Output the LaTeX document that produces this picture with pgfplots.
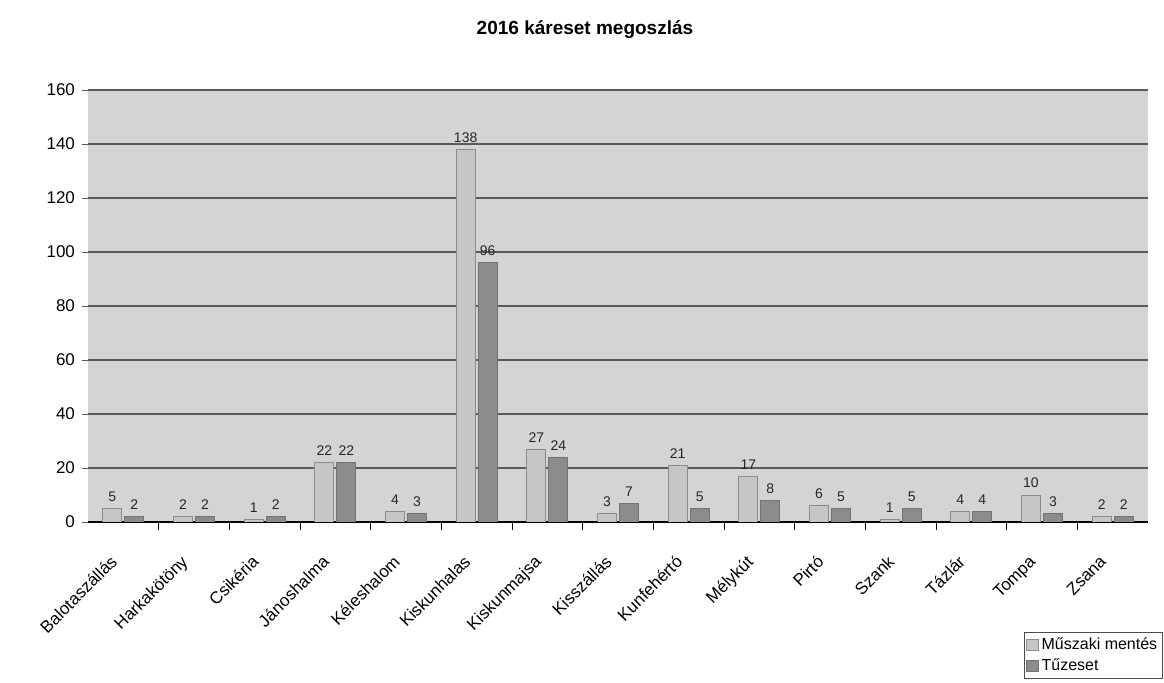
\documentclass[border=0pt]{standalone}
\usepackage{pgfplots}
\pgfplotsset{compat=1.18}
\usepackage{fontspec}
\setmainfont{Liberation Sans}
\definecolor{plotbg}{HTML}{D4D4D4}
\definecolor{mentes}{HTML}{C6C6C6}
\definecolor{tuz}{HTML}{8C8C8C}
\definecolor{gridc}{HTML}{5A5A5A}
\begin{document}
\begin{tikzpicture}
\path[use as bounding box] (-44pt,-80.5pt) rectangle (538pt,261pt);
\begin{axis}[
    at={(0,0)}, anchor=south west,
    scale only axis, width=530pt, height=216pt,
    ybar=1.5pt, bar width=9.5pt,
    ymin=0, ymax=160, ytick={0,20,...,160},
    xmin=-0.5, xmax=14.5,
    xtick={0,...,14},
    xticklabels={Balotaszállás,Harkakötöny,Csikéria,Jánoshalma,Kéleshalom,Kiskunhalas,Kiskunmajsa,Kisszállás,Kunfehértó,Mélykút,Pirtó,Szank,Tázlár,Tompa,Zsana},
    major x tick style={draw=none},
    minor xtick={0.5,1.5,...,13.5},
    minor tick length=4pt,
    minor x tick style={black},
    tick align=outside,
    major tick length=3pt,
    xmajorgrids=false, xminorgrids=false, ymajorgrids=true,
    grid style={draw=gridc, line width=0.8pt},
    axis background/.style={fill=plotbg},
    axis x line*=bottom, axis y line*=left,
    y axis line style={draw=none},
    x axis line style={black, line width=0.8pt},
    y tick style={draw=gridc},
    xticklabel style={xshift=-7pt, yshift=-11.5pt, rotate=45, anchor=north east, font=\fontsize{8.5}{10}\selectfont, inner sep=1pt},
    yticklabel style={font=\fontsize{8.5}{10}\selectfont},
    /pgf/number format/assume math mode=true,
    nodes near coords,
    every node near coord/.append style={font=\fontsize{7}{8}\selectfont, color=black!85},
    legend cell align=left,
    legend style={at={(1.014,0)}, anchor=north east, yshift=-55pt,
        font=\fontsize{8}{9}\selectfont, draw=black!70, row sep=0pt,
        inner sep=1pt, nodes={inner sep=1.6pt}},
    legend image code/.code={\draw[#1] (0cm,-0.1cm) rectangle (0.2cm,0.1cm);},
]
\addplot[fill=mentes, draw=black!45] coordinates {
(0,5) (1,2) (2,1) (3,22) (4,4) (5,138) (6,27) (7,3) (8,21) (9,17) (10,6) (11,1) (12,4) (13,10) (14,2)};
\addlegendentry{Műszaki mentés}
\addplot[fill=tuz, draw=black!55] coordinates {
(0,2) (1,2) (2,2) (3,22) (4,3) (5,96) (6,24) (7,7) (8,5) (9,8) (10,5) (11,5) (12,4) (13,3) (14,2)};
\addlegendentry{Tűzeset}
\end{axis}
\node[font=\bfseries\fontsize{9.5}{11}\selectfont] at (248.5pt,246pt) {2016 káreset megoszlás};
\end{tikzpicture}
\end{document}
